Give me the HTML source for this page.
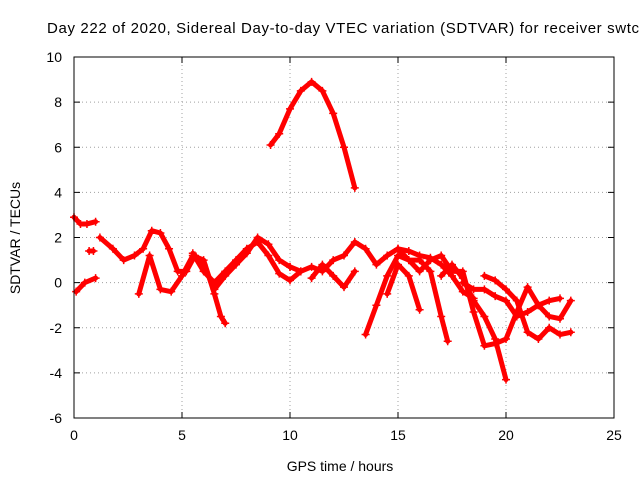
<!DOCTYPE html>
<html><head><meta charset="utf-8"><style>
body{margin:0;background:#fff;}
svg{display:block;font-family:"Liberation Sans",sans-serif;}
</style></head><body>
<svg id="chart" width="640" height="480" viewBox="0 0 640 480">
<text x="47" y="33" font-size="15" textLength="592" lengthAdjust="spacing" fill="#000">Day 222 of 2020, Sidereal Day-to-day VTEC variation (SDTVAR) for receiver swtc</text>
<g id="grid"></g>
<g id="series"></g>
<rect x="74" y="57" width="540" height="361" fill="none" stroke="#000" stroke-width="1"/>
<g id="ticks"></g>
<text transform="translate(20,238) rotate(-90)" text-anchor="middle" font-size="14">SDTVAR / TECUs</text>
<text x="340" y="471" text-anchor="middle" font-size="14">GPS time / hours</text>
</svg>
<script>
const xTicks=[0,5,10,15,20,25];
const yTicks=[-6,-4,-2,0,2,4,6,8,10];
const track1T=[0,0.3,0.6,1.0];const track1V=[2.9,2.6,2.6,2.7];
const track2T=[0.1,0.5,1.0];const track2V=[-0.4,0,0.2];
const track3T=[0.7,0.9];const track3V=[1.4,1.4];
const track4T=[1.2,1.8,2.3,2.8,3.2,3.6,4.0,4.4,4.8,5.2,5.6,6.0,6.5,7.0,7.5,8.0,8.5,9.0,9.5,10.0];
const track4V=[2.0,1.5,1.0,1.2,1.5,2.3,2.2,1.5,0.5,0.5,1.2,0.8,-0.3,0.3,0.8,1.3,2.0,1.7,1.0,0.7];
const track5T=[3.0,3.5,4.0,4.5,5.0,5.5,6.0,6.5,6.8,7.0];
const track5V=[-0.5,1.2,-0.3,-0.4,0.3,1.2,1.0,-0.5,-1.5,-1.8];
const track6T=[5.5,6.0,6.5,7.0,7.5,8.0,8.5,9.0,9.5,10.0,10.5];
const track6V=[1.3,0.5,0,0.5,1.0,1.5,1.8,1.2,0.4,0.1,0.5];
const track7T=[9.1,9.5,10.0,10.5,11.0,11.5,12.0,12.5,13.0];
const track7V=[6.1,6.6,7.7,8.5,8.9,8.5,7.5,6.0,4.2];
const track8T=[10,10.5,11,11.5,12,12.5,13,13.5,14,14.5,15,15.5,16,16.5,17,17.5,18,18.5];
const track8V=[0.7,0.5,0.7,0.5,1.0,1.2,1.8,1.5,0.8,1.2,1.5,1.4,1.2,1.1,0.8,0.3,-0.4,-0.7];
const track9T=[11,11.5,12,12.5,13];const track9V=[0.2,0.8,0.3,-0.2,0.5];
const track10T=[13.5,14,14.5,15,15.5,16,16.5,17,17.5,18,18.5,19,19.5,20,20.5,21,21.5,22,22.5,23];
const track10V=[-2.3,-1,0.3,1.2,1.0,0.5,1.0,1.2,0.5,0.5,-1.3,-2.8,-2.7,-2.5,-1.3,-0.2,-1.0,-1.5,-1.6,-0.8];
const track11T=[14.5,15,15.5,16];const track11V=[-0.5,0.8,0.3,-1.2];
const track12T=[15,15.5,16,16.5,17,17.3];const track12V=[1.5,1.0,1.0,0.5,-1.5,-2.6];
const track13T=[17,17.5,18,18.5,19,19.5,20];const track13V=[0.3,0.8,0.2,-0.8,-1.5,-2.5,-4.3];
const track14T=[19,19.5,20,20.5,21,21.5,22,22.5,23];const track14V=[0.3,0.1,-0.3,-0.8,-2.2,-2.5,-2.0,-2.3,-2.2];
const track15T=[18,18.5,19,19.5,20,20.5,21,21.5,22,22.5];const track15V=[0,-0.3,-0.3,-0.6,-0.8,-1.5,-1.3,-1.0,-0.8,-0.7];
const tracks=[[track1T,track1V],[track2T,track2V],[track3T,track3V],[track4T,track4V],[track5T,track5V],[track6T,track6V],[track7T,track7V],[track8T,track8V],[track9T,track9V],[track10T,track10V],[track11T,track11V],[track12T,track12V],[track13T,track13V],[track14T,track14V],[track15T,track15V]];
const NS="http://www.w3.org/2000/svg";
const X=t=>74+t*540/25;
const Y=v=>57+(10-v)*361/16;
function mk(tag,attrs,parent){const e=document.createElementNS(NS,tag);for(const k in attrs)e.setAttribute(k,attrs[k]);parent.appendChild(e);return e;}
const grid=document.getElementById('grid'),ticks=document.getElementById('ticks'),ser=document.getElementById('series');
xTicks.forEach(t=>{
 if(t>0&&t<25){const g=mk('line',{x1:X(t),x2:X(t),y1:57,y2:418,stroke:'#a0a0a0','stroke-dasharray':'1,3'},grid);
 
 }
 mk('line',{x1:X(t),x2:X(t),y1:418,y2:412,stroke:'#000'},ticks);
 mk('line',{x1:X(t),x2:X(t),y1:57,y2:63,stroke:'#000'},ticks);
 const l=mk('text',{x:X(t),y:440,'text-anchor':'middle','font-size':'14'},ticks);l.textContent=t;
 
 
});
yTicks.forEach(v=>{
 if(v>-6&&v<10){const g=mk('line',{x1:74,x2:614,y1:Y(v),y2:Y(v),stroke:'#a0a0a0','stroke-dasharray':'1,3'},grid);
 
 }
 mk('line',{x1:74,x2:80,y1:Y(v),y2:Y(v),stroke:'#000'},ticks);
 mk('line',{x1:614,x2:608,y1:Y(v),y2:Y(v),stroke:'#000'},ticks);
 const l=mk('text',{x:62,y:Y(v)+5,'text-anchor':'end','font-size':'14'},ticks);l.textContent=v;
 
 
});
tracks.forEach(([T,V])=>{
 const pts=T.map((t,i)=>X(t)+','+Y(V[i])).join(' ');
 const p=mk('polyline',{points:pts,fill:'none',stroke:'#f00','stroke-width':'5','stroke-linejoin':'round','stroke-linecap':'round'},ser);
 
 
 T.forEach((t,i)=>{const x=X(t),y=Y(V[i]);
  const m=mk('path',{d:`M${x-4},${y}H${x+4}M${x},${y-4}V${y+4}`,stroke:'#f00','stroke-width':'1.5'},ser);
  
  
 });
});
</script>
</body></html>
